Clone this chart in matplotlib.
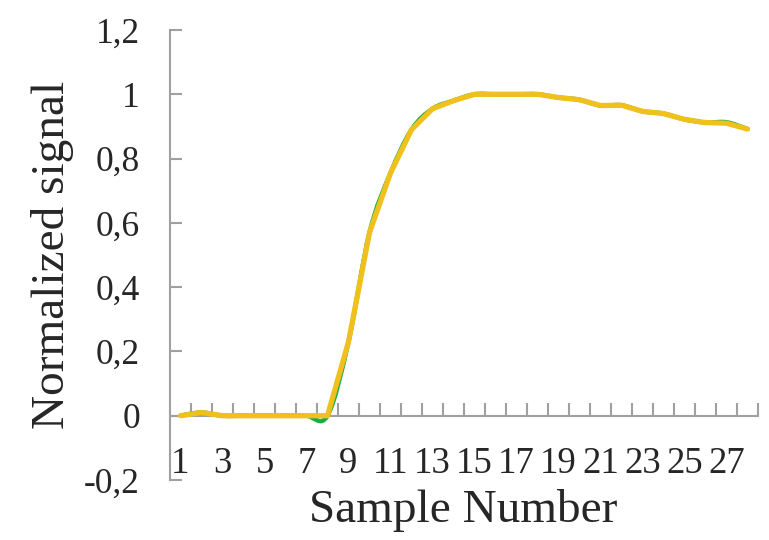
import matplotlib
matplotlib.use('Agg')
import matplotlib.pyplot as plt
from matplotlib.path import Path
from matplotlib.patches import PathPatch
from matplotlib.transforms import blended_transform_factory
import numpy as np

plt.rcParams['font.family'] = ['Liberation Serif', 'DejaVu Serif']

# ---- data ----
samples = list(range(1, 29))
signal_green = [0.0, 0.01, 0.0, 0.0, 0.0, 0.0, 0.0, 0.0, 0.23, 0.57, 0.755, 0.89,
                0.955, 0.98, 1.0, 1.0, 1.0, 1.0, 0.99, 0.983, 0.965, 0.966, 0.947,
                0.94, 0.922, 0.912, 0.913, 0.892]
signal_yellow = [0.0, 0.01, 0.0, 0.0, 0.0, 0.0, 0.0, 0.0, 0.23, 0.57, 0.755, 0.89,
                 0.955, 0.98, 1.0, 1.0, 1.0, 1.0, 0.99, 0.983, 0.965, 0.966, 0.947,
                 0.94, 0.922, 0.912, 0.91, 0.892]
x_tick_labels = ['1', '3', '5', '7', '9', '11', '13', '15', '17', '19', '21', '23', '25', '27']
y_ticks = [-0.2, 0.0, 0.2, 0.4, 0.6, 0.8, 1.0, 1.2]
y_tick_labels = ['-0,2', '0', '0,2', '0,4', '0,6', '0,8', '1', '1,2']

GREEN = '#16AD4A'
YELLOW = '#F0C01C'
AXIS = '#A0A0A0'
TEXT = '#262626'


def smooth_path(xs, ys):
    """Excel-like smoothed line: cubic Bezier segments through the points."""
    pts = np.column_stack([xs, ys]).astype(float)
    n = len(pts)
    verts = [pts[0]]
    codes = [Path.MOVETO]
    for i in range(n - 1):
        p_prev = pts[i - 1] if i > 0 else pts[i]
        p0 = pts[i]
        p1 = pts[i + 1]
        p_next = pts[i + 2] if i + 2 < n else pts[i + 1]
        c1 = p0 + (p1 - p_prev) / 6.0
        c2 = p1 - (p_next - p0) / 6.0
        verts += [c1, c2, p1]
        codes += [Path.CURVE4] * 3
    return Path(verts, codes)


fig = plt.figure(figsize=(7.69, 5.4), dpi=100)
ax = fig.add_axes([170 / 769, 60 / 540, 588 / 769, 450 / 540])
ax.set_xlim(0.5, len(samples) + 0.5)
ax.set_ylim(-0.2, 1.2)

# series
ax.add_patch(PathPatch(smooth_path(samples, signal_green), facecolor='none',
                       edgecolor=GREEN, lw=3.2, capstyle='round', joinstyle='round', zorder=3))
ax.plot(samples, signal_yellow, color=YELLOW, lw=3.8, solid_capstyle='round',
        solid_joinstyle='round', zorder=4)

# spines
for s in ['top', 'right']:
    ax.spines[s].set_visible(False)
ax.spines['bottom'].set_position(('data', 0))
for s in ['left', 'bottom']:
    ax.spines[s].set_color(AXIS)
    ax.spines[s].set_linewidth(1.5)

# y axis
ax.set_yticks(y_ticks, y_tick_labels)
ax.tick_params(axis='y', direction='in', length=8.6, width=1.5, color=AXIS,
               pad=21.6, labelsize=25.5, labelcolor=TEXT)

# x axis: tick marks between categories, labels near the bottom
ax.set_xticks(np.arange(1.5, len(samples) + 1, 1.0))
ax.tick_params(axis='x', direction='in', length=9.4, width=1.5, color=AXIS,
               labelbottom=False)
trans = blended_transform_factory(ax.transData, ax.transAxes)
for lab in x_tick_labels:
    ax.text(int(lab), 0.0156, lab, transform=trans, ha='center', va='baseline',
            fontsize=26.5, color=TEXT)

ax.set_ylabel('Normalized signal', fontsize=34, color=TEXT)
ax.yaxis.set_label_coords((74 - 170) / 588, 0.5)
ax.set_xlabel('Sample Number', fontsize=34, color=TEXT)
ax.xaxis.set_label_coords((463 - 170) / 588, -0.02)

fig.savefig('out.png', dpi=100)
